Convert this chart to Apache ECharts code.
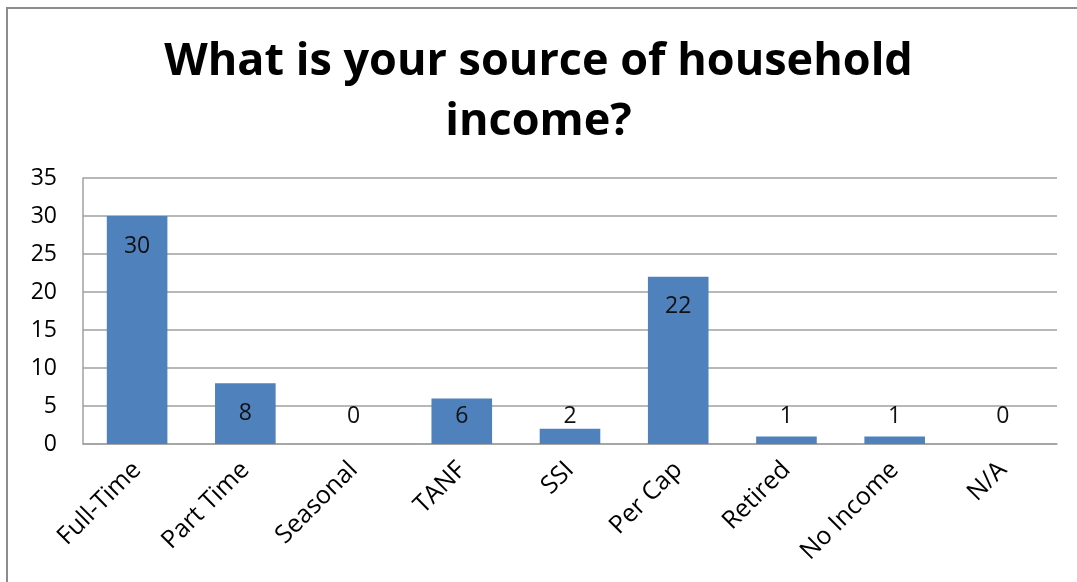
<!DOCTYPE html>
<html>
<head>
<meta charset="utf-8">
<script src="https://cdn.jsdelivr.net/npm/echarts@6/dist/echarts.min.js"></script>
<style>
  html, body { margin: 0; padding: 0; background: #fff; }
  #chart { width: 1077px; height: 582px; }
</style>
</head>
<body>
<div id="chart"></div>
<script>
// Survey responses: source of household income
const titleText = 'What is your source of household\nincome?';
const categories = ['Full-Time', 'Part Time', 'Seasonal', 'TANF', 'SSI', 'Per Cap', 'Retired', 'No Income', 'N/A'];
const counts = [30, 8, 0, 6, 2, 22, 1, 1, 0];
const yTicks = { min: 0, max: 35, interval: 5 };

const FONT = '"Open Sans", Lato, sans-serif';
const chart = echarts.init(document.getElementById('chart'), null, { renderer: 'canvas' });

const baseOption = {
  animation: false,
  backgroundColor: '#ffffff',
  title: {
    text: titleText,
    left: 'center',
    top: 27,
    textStyle: { fontFamily: FONT, fontWeight: 'bold', fontSize: 45, lineHeight: 60, color: '#000' }
  },
  grid: { left: 83, right: 20, top: 178, bottom: 138, containLabel: false },
  xAxis: {
    type: 'category',
    data: categories,
    axisLine: { show: true, lineStyle: { color: '#a0a0a0', width: 1.5 } },
    axisTick: { show: false },
    axisLabel: {
      rotate: 45, margin: 22, interval: 0,
      fontFamily: FONT, fontSize: 25, color: '#000'
    }
  },
  yAxis: {
    type: 'value',
    min: yTicks.min, max: yTicks.max, interval: yTicks.interval,
    axisLine: { show: true, lineStyle: { color: '#a0a0a0', width: 1.5 } },
    axisTick: { show: false },
    splitLine: { lineStyle: { color: '#a0a0a0', width: 1.5 } },
    axisLabel: { margin: 26, fontFamily: FONT, fontSize: 23, color: '#000' }
  },
  graphic: [{
    type: 'rect',
    shape: { x: 7, y: 8, width: 1200, height: 700 },
    style: { fill: 'none', stroke: '#8c8c8c', lineWidth: 2 },
    silent: true, z: 100
  }],
  series: [{
    type: 'bar',
    data: counts,
    barWidth: '56%',
    itemStyle: { color: '#4f81bd' },
    label: {
      show: true, position: 'insideTop', distance: 20,
      fontFamily: FONT, fontSize: 23, color: '#111'
    }
  }]
};

chart.setOption(baseOption);

// Value labels sit ~30px below each bar's top, but never lower than a fixed
// line just above the baseline (so short bars get their label above them).
const zeroY = chart.convertToPixel({ yAxisIndex: 0 }, 0);
const floorY = zeroY - 28;
const labelled = counts.map(function (v) {
  const topY = chart.convertToPixel({ yAxisIndex: 0 }, v);
  const centerY = Math.min(topY + 30, floorY);
  return {
    value: v,
    label: {
      position: ['50%', centerY - topY],
      align: 'center',
      verticalAlign: 'middle'
    }
  };
});
chart.setOption({ series: [{ data: labelled }] });
</script>
</body>
</html>
